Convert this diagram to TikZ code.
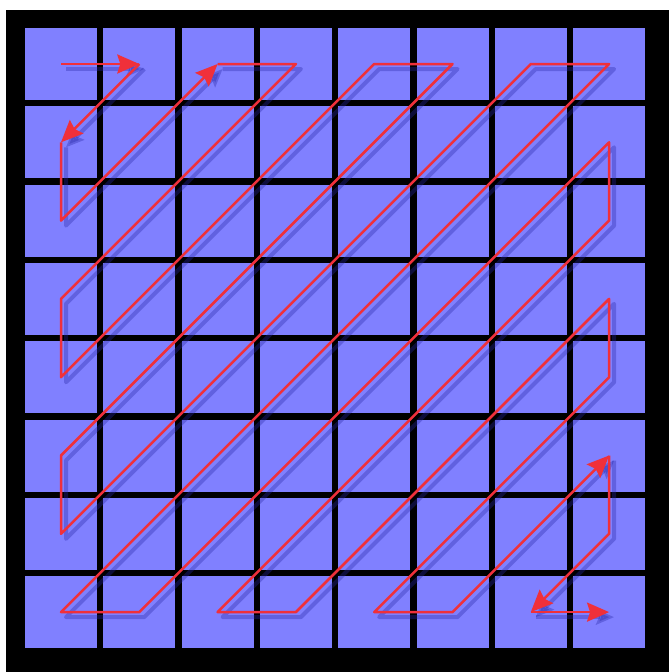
\documentclass[tikz,border=0pt]{standalone}
\usepackage{tikz}
\usetikzlibrary{arrows.meta}
\definecolor{cellblue}{HTML}{8080FF}
\definecolor{scanred}{HTML}{F0303A}
\definecolor{shadeblue}{HTML}{2828A8}
\tikzset{
  cellbox/.style={
    rectangle, fill=cellblue, draw=none,
    minimum size=72pt, inner sep=0pt
  },
  scanline/.style={
    draw=scanred, line width=2.5pt, line join=round
  },
  scanarrow/.style={
    scanline, -{Stealth[length=22pt, width=19pt, inset=3pt]}
  },
  shadeline/.style={
    draw=shadeblue, line width=4pt, line join=round, opacity=0.35
  },
  shadearrow/.style={
    shadeline, -{Stealth[length=18pt, width=15pt, inset=3pt]}
  },
}

\begin{document}
\begin{tikzpicture}[x=1pt, y=-1pt]
  \useasboundingbox (0,0) rectangle (669,672);
  \fill[white] (0,0) rectangle (669,672);
  \fill[black] (6,10) rectangle (669,672);

  % ── 8x8 block of cells ──
  \foreach \i in {0,...,7}
    \foreach \j in {0,...,7}
      \node[cellbox] (c\i\j) at ({61+78.3*\i},{64+78.3*\j}) {};

  % ── zigzag scan, shadow first ──
  \foreach \off/\ar in {5/shadearrow, 0/scanarrow} {
    \begin{scope}[transform canvas={shift={(\off pt,-\off pt)}}]
      \draw[\ar] (c00.center) -- (c10.center);
      \draw[\ar] (c10.center) -- (c01.center);
      \draw[\ar] (c01.center) -- (c02.center) -- (c20.center);
      \draw[\ar] (c20.center) -- (c30.center) -- (c03.center) -- (c04.center)
        -- (c40.center) -- (c50.center) -- (c05.center) -- (c06.center)
        -- (c60.center) -- (c70.center) -- (c07.center) -- (c17.center)
        -- (c71.center) -- (c72.center) -- (c27.center) -- (c37.center)
        -- (c73.center) -- (c74.center) -- (c47.center) -- (c57.center)
        -- (c75.center);
      \draw[\ar] (c75.center) -- (c76.center) -- (c67.center);
      \draw[\ar] (c67.center) -- (c77.center);
    \end{scope}
  }
\end{tikzpicture}
\end{document}
